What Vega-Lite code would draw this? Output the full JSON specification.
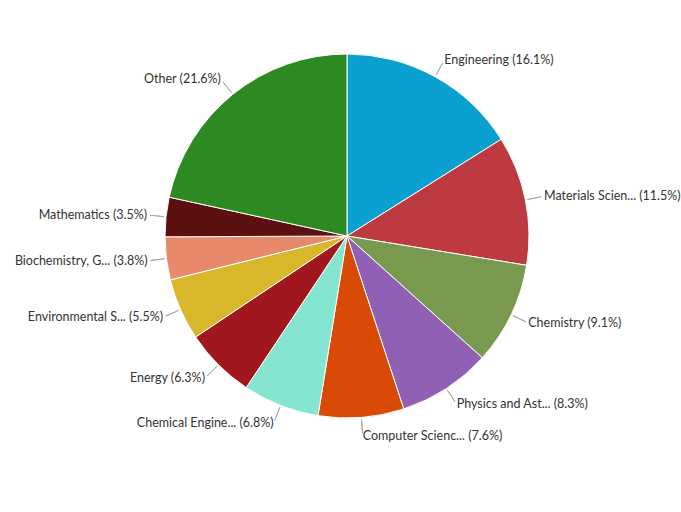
{
  "$schema": "https://vega.github.io/schema/vega-lite/v6.json",
  "width": 681,
  "height": 512,
  "autosize": {"type": "fit", "contains": "padding"},
  "padding": {"left": 13, "top": 0, "right": 0, "bottom": 40},
  "background": "white",
  "view": {"stroke": null},
  "data": {
    "values": [
      {"rank": 1, "category": "Engineering", "share": 16.1, "label": "Engineering (16.1%)"},
      {"rank": 2, "category": "Materials Science", "share": 11.5, "label": "Materials Scien... (11.5%)"},
      {"rank": 3, "category": "Chemistry", "share": 9.1, "label": "Chemistry (9.1%)"},
      {"rank": 4, "category": "Physics and Astronomy", "share": 8.3, "label": "Physics and Ast... (8.3%)"},
      {"rank": 5, "category": "Computer Science", "share": 7.6, "label": "Computer Scienc... (7.6%)"},
      {"rank": 6, "category": "Chemical Engineering", "share": 6.8, "label": "Chemical Engine... (6.8%)"},
      {"rank": 7, "category": "Energy", "share": 6.3, "label": "Energy (6.3%)"},
      {"rank": 8, "category": "Environmental Science", "share": 5.5, "label": "Environmental S... (5.5%)"},
      {"rank": 9, "category": "Biochemistry, Genetics", "share": 3.8, "label": "Biochemistry, G... (3.8%)"},
      {"rank": 10, "category": "Mathematics", "share": 3.5, "label": "Mathematics (3.5%)"},
      {"rank": 11, "category": "Other", "share": 21.6, "label": "Other (21.6%)"}
    ]
  },
  "encoding": {
    "theta": {"field": "share", "type": "quantitative", "stack": true},
    "order": {"field": "rank", "type": "quantitative", "sort": "ascending"}
  },
  "layer": [
    {
      "mark": {"type": "arc", "radius": 182, "stroke": "white", "strokeWidth": 1},
      "encoding": {
        "color": {
          "field": "category",
          "type": "nominal",
          "legend": null,
          "scale": {
            "domain": ["Engineering", "Materials Science", "Chemistry", "Physics and Astronomy", "Computer Science", "Chemical Engineering", "Energy", "Environmental Science", "Biochemistry, Genetics", "Mathematics", "Other"],
            "range": ["#0aa0d0", "#bd3a40", "#78994e", "#9060b5", "#d84a05", "#85e5d0", "#a0181e", "#d8b82a", "#e8896c", "#5c1010", "#2d8a22"]
          }
        }
      }
    },
    {
      "mark": {"type": "arc", "radius": 198, "radius2": 184, "padAngle": 3, "fill": null, "stroke": "#aaaaaa", "strokeWidth": 1},
      "encoding": {}
    },
    {
      "mark": {
        "type": "text",
        "radius": 201,
        "font": "Lato",
        "fontSize": 12.5,
        "fill": "#333333",
        "baseline": "middle",
        "align": {"expr": "datum.share_start + datum.share_end < 100.1 ? 'left' : 'right'"}
      },
      "encoding": {
        "text": {"field": "label", "type": "nominal"}
      }
    }
  ]
}
